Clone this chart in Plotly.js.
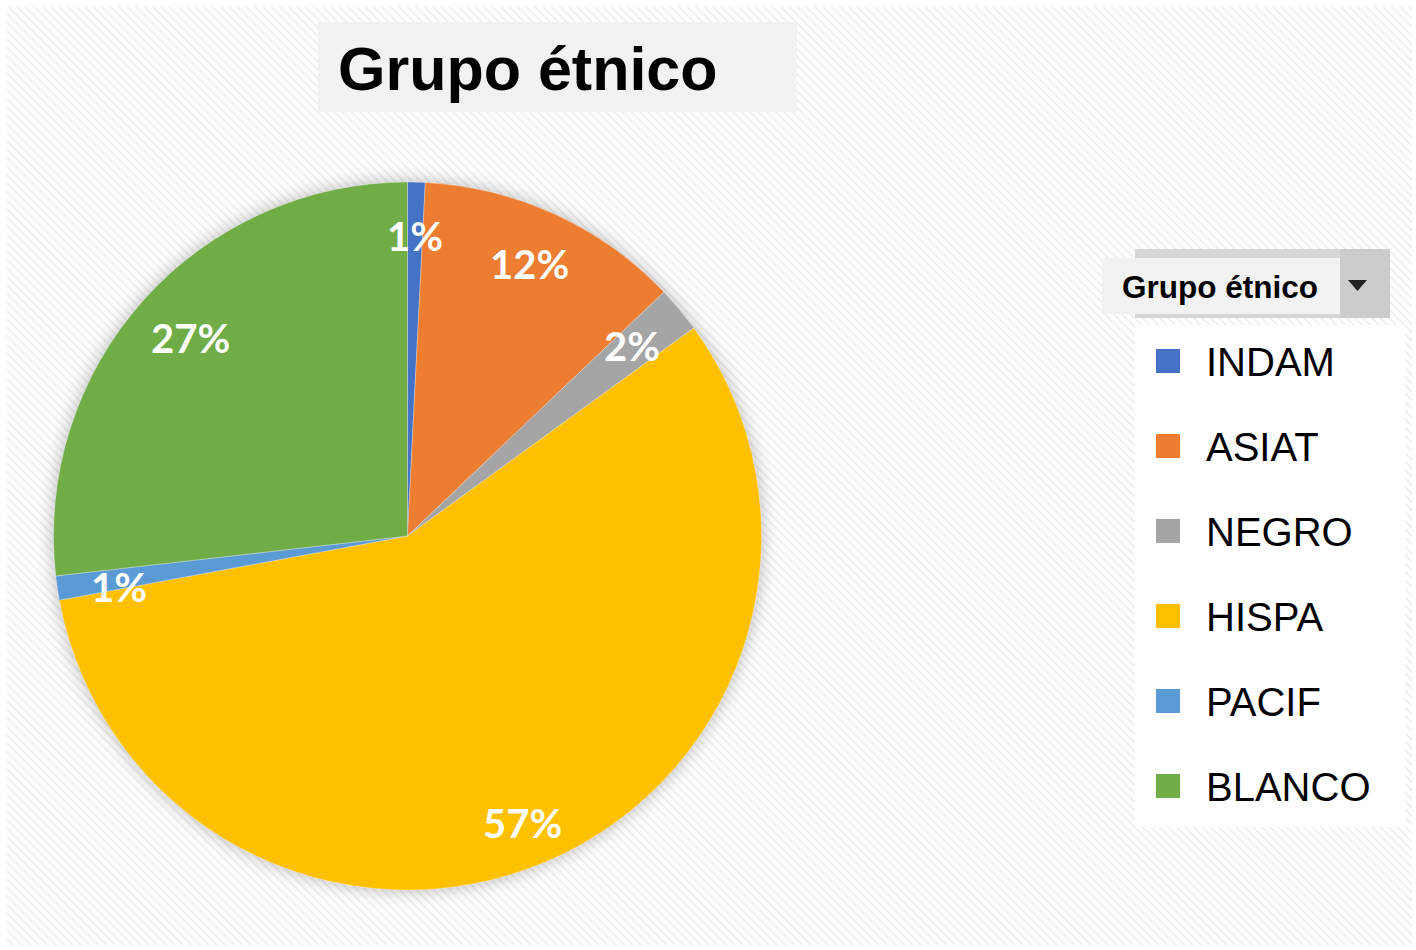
<!DOCTYPE html>
<html>
<head>
<meta charset="utf-8">
<script src="https://cdn.plot.ly/plotly-3.0.1.min.js"></script>
<style>
  html, body { margin: 0; padding: 0; background: #ffffff; }
  #wrap { position: relative; width: 1416px; height: 950px; background: #ffffff; }
  #bg { position: absolute; left: 7px; top: 7px; right: 4px; bottom: 5px;
        background: repeating-linear-gradient(45deg, #ffffff 0px, #ffffff 3px, #ebebeb 4.5px, #ffffff 6px); }
  #chart { position: absolute; left: 0; top: 0; width: 1416px; height: 950px; }
  .pielayer .trace { filter: drop-shadow(0px 0px 9px rgba(0,0,0,0.28)); }
</style>
</head>
<body>
<div id="wrap"><div id="bg"></div><div id="chart"></div></div>
<script>
// ---- data ----
const categories = ["INDAM", "ASIAT", "NEGRO", "HISPA", "PACIF", "BLANCO"];
const shares = [0.8, 12.1, 2.1, 57.1, 1.1, 26.8];
const colors = ["#4472C4", "#ED7D31", "#A5A5A5", "#FFC000", "#5B9BD5", "#70AD47"];
const titleText = "Grupo étnico";
const legendTitle = "Grupo étnico";

// ---- geometry helpers (page pixels -> paper) ----
const W = 1416, H = 950;
const px = x => x / W;
const py = y => 1 - y / H;

const cx = 407.5, cy = 536, R = 354;
const domain = { x: [px(cx - R), px(cx + R)], y: [py(cy + R), py(cy - R)] };

const trace = {
  type: "pie",
  labels: categories,
  values: shares,
  marker: { colors: colors, line: { color: "rgba(255,255,255,0.6)", width: 0.5 } },
  sort: false,
  direction: "clockwise",
  rotation: 0,
  textinfo: "none",
  hoverinfo: "label+percent",
  domain: domain,
  showlegend: false
};

// data labels, placed at mid-angle of each slice
const total = shares.reduce((a, b) => a + b, 0);
const annotations = [];
let cum = 0;
shares.forEach((v, i) => {
  const th = 2 * Math.PI * (cum + v / 2) / total;
  cum += v;
  const lx = cx + 0.845 * 345 * Math.sin(th);
  const ly = cy - 0.845 * 362 * Math.cos(th) + 6;
  annotations.push({
    xref: "paper", yref: "paper", x: px(lx), y: py(ly),
    xanchor: "center", yanchor: "middle", showarrow: false,
    text: "<b>" + Math.round(v / total * 100) + "%</b>",
    font: { family: "Lato, 'DejaVu Sans', sans-serif", size: 40, color: "#ffffff" }
  });
});

// title
annotations.push({
  xref: "paper", yref: "paper", x: px(336), y: py(69),
  xanchor: "left", yanchor: "middle", showarrow: false,
  text: "<b>" + titleText + "</b>",
  font: { family: "'Liberation Sans', Arial, sans-serif", size: 61, color: "#000000" }
});

// legend header
annotations.push({
  xref: "paper", yref: "paper", x: px(1120), y: py(287),
  xanchor: "left", yanchor: "middle", showarrow: false,
  text: "<b>" + legendTitle + "</b>",
  font: { family: "'Liberation Sans', Arial, sans-serif", size: 31.5, color: "#000000" }
});

const shapes = [
  // title box
  { type: "rect", xref: "paper", yref: "paper", x0: px(318), x1: px(797), y0: py(112), y1: py(22),
    fillcolor: "#f2f2f2", line: { width: 0 }, layer: "below" },
  // legend header outer (button)
  { type: "rect", xref: "paper", yref: "paper", x0: px(1135), x1: px(1390), y0: py(318), y1: py(249),
    fillcolor: "#d6d6d6", line: { width: 0 }, layer: "below" },
  { type: "rect", xref: "paper", yref: "paper", x0: px(1340), x1: px(1390), y0: py(318), y1: py(249),
    fillcolor: "#cccccc", line: { width: 0 }, layer: "below" },
  // legend header inner
  { type: "rect", xref: "paper", yref: "paper", x0: px(1102), x1: px(1340), y0: py(314), y1: py(258),
    fillcolor: "#f2f2f2", line: { width: 0 }, layer: "below" },
  // dropdown arrow
  { type: "path", xref: "paper", yref: "paper",
    path: "M " + px(1348) + " " + py(280) + " L " + px(1367) + " " + py(280) + " L " + px(1357.5) + " " + py(291) + " Z",
    fillcolor: "#222222", line: { width: 0 }, layer: "above" },
  // legend body
  { type: "rect", xref: "paper", yref: "paper", x0: px(1135), x1: px(1405), y0: py(827), y1: py(325),
    fillcolor: "#ffffff", line: { width: 0 }, layer: "below" }
];

// legend entries
categories.forEach((c, i) => {
  const yc = 361 + i * 85;
  shapes.push({ type: "rect", xref: "paper", yref: "paper",
    x0: px(1156), x1: px(1180), y0: py(yc + 12), y1: py(yc - 12),
    fillcolor: colors[i], line: { width: 0 }, layer: "above" });
  annotations.push({
    xref: "paper", yref: "paper", x: px(1204), y: py(yc + 1),
    xanchor: "left", yanchor: "middle", showarrow: false,
    text: c,
    font: { family: "'Liberation Sans', Arial, sans-serif", size: 40, color: "#000000" }
  });
});

const layout = {
  width: W, height: H,
  margin: { l: 0, r: 0, t: 0, b: 0 },
  paper_bgcolor: "rgba(0,0,0,0)",
  plot_bgcolor: "rgba(0,0,0,0)",
  showlegend: false,
  annotations: annotations,
  shapes: shapes
};

Plotly.newPlot("chart", [trace], layout, { displayModeBar: false, staticPlot: true });
</script>
</body>
</html>
